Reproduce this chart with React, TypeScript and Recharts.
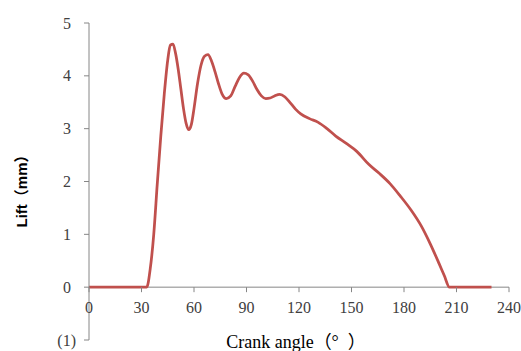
import { LineChart, Line, XAxis, YAxis, ReferenceLine } from 'recharts';

// crank angle (deg) and valve lift (mm)
const angles = [
  0, 33, 35, 37, 39, 41, 43, 45, 46.5, 48, 49.5, 51, 52.5, 54, 55.5, 57, 58.5, 60, 62, 64,
  66, 68, 70, 72, 74, 76, 78.5, 81, 83.5, 86, 88.5, 91, 93.5, 96, 98.5, 101, 103.5, 106, 109, 112,
  115, 118, 121, 126, 131, 136, 141, 147, 153, 160, 166, 172, 178, 184, 190, 195, 200, 203, 206, 230,
];
const lifts = [
  0, 0, 0.35, 1.0, 1.95, 2.85, 3.65, 4.3, 4.58, 4.6, 4.42, 4.12, 3.75, 3.38, 3.1, 2.98, 3.08, 3.38, 3.85, 4.2,
  4.37, 4.4, 4.28, 4.08, 3.85, 3.66, 3.57, 3.62, 3.8, 3.97, 4.05, 4.02, 3.9, 3.74, 3.62, 3.57, 3.58, 3.62, 3.65, 3.6,
  3.49, 3.37, 3.28, 3.19, 3.12, 3.0, 2.86, 2.72, 2.57, 2.32, 2.15, 1.96, 1.72, 1.46, 1.15, 0.82, 0.45, 0.22, 0, 0,
];
const xTicks = [0, 30, 60, 90, 120, 150, 180, 210, 240];
const yTicks = [-1, 0, 1, 2, 3, 4, 5];

const data = angles.map((a, i) => ({ angle: a, lift: lifts[i] }));

const AXIS = '#868686';
const TEXT = '#404040';
const SERIF = '"Liberation Serif", "Times New Roman", "Noto Sans CJK SC", serif';
const SANS = '"Liberation Sans", Arial, "Noto Sans CJK SC", sans-serif';

const PLOT_TOP = 23;
const PLOT_H = 317;
// y pixel of lift = 0 (x axis crosses there)
const zeroY = PLOT_TOP + (PLOT_H * 5) / 6;

// eslint-disable-next-line @typescript-eslint/no-explicit-any
const XTick = (props: any) => {
  const { x, payload } = props;
  return (
    <g>
      <line x1={x} x2={x} y1={zeroY} y2={zeroY + 5} stroke={AXIS} />
      <text
        x={x}
        y={zeroY + 20}
        textAnchor="middle"
        dominantBaseline="central"
        fontFamily={SERIF}
        fontSize={16}
        fill={TEXT}
      >
        {payload.value}
      </text>
    </g>
  );
};

// negative values shown excel-style, "(1)", with the bracket hanging right
// eslint-disable-next-line @typescript-eslint/no-explicit-any
const YTick = (props: any) => {
  const { x, y, payload } = props;
  const v = payload.value as number;
  return (
    <text
      x={v < 0 ? x + 5 : x}
      y={y}
      textAnchor="end"
      dominantBaseline="central"
      fontFamily={SERIF}
      fontSize={16}
      fill={TEXT}
    >
      {v < 0 ? `(${-v})` : v}
    </text>
  );
};

// eslint-disable-next-line @typescript-eslint/no-explicit-any
const YTitle = (props: any) => {
  const { viewBox } = props;
  const cx = 21;
  const cy = viewBox.y + viewBox.height / 2 + 6;
  return (
    <text
      x={cx}
      y={cy}
      transform={`rotate(-90, ${cx}, ${cy})`}
      textAnchor="middle"
      dominantBaseline="central"
      fontFamily={SANS}
      fontWeight="bold"
      fontSize={15}
      fill="#000"
    >
      Lift（mm）
    </text>
  );
};

// eslint-disable-next-line @typescript-eslint/no-explicit-any
const XTitle = (props: any) => {
  const { viewBox } = props;
  return (
    <text
      x={viewBox.x + viewBox.width / 2 - 3}
      y={342}
      textAnchor="middle"
      dominantBaseline="central"
      fontFamily={SERIF}
      fontSize={18}
      fill="#000"
      style={{ whiteSpace: 'pre' }}
    >
      Crank angle（°  ）
    </text>
  );
};

export default function App() {
  return (
    <div style={{ position: 'absolute', left: 0, top: 0, background: '#fff' }}>
      <LineChart
        width={521}
        height={351}
        data={data}
        margin={{ top: PLOT_TOP, right: 12, bottom: 0, left: 0 }}
      >
        <XAxis
          dataKey="angle"
          type="number"
          domain={[0, 240]}
          ticks={xTicks}
          axisLine={false}
          tickLine={false}
          tick={<XTick />}
          height={11}
          label={<XTitle />}
        />
        <YAxis
          type="number"
          domain={[-1, 5]}
          ticks={yTicks}
          width={89}
          axisLine={{ stroke: AXIS }}
          tickLine={{ stroke: AXIS }}
          tickSize={5}
          tickMargin={13}
          tick={<YTick />}
          label={<YTitle />}
        />
        <ReferenceLine y={0} stroke={AXIS} />
        <Line
          type="monotone"
          dataKey="lift"
          stroke="#C0504D"
          strokeWidth={2.75}
          dot={false}
          activeDot={false}
          isAnimationActive={false}
        />
      </LineChart>
    </div>
  );
}
